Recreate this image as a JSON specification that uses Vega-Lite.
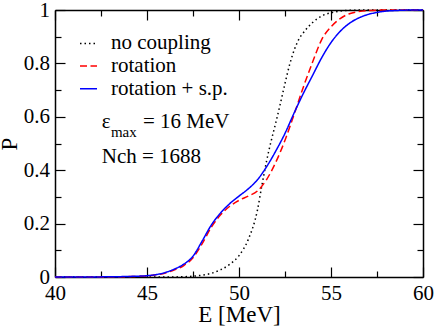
{
  "$schema": "https://vega.github.io/schema/vega-lite/v6.json",
  "width": 368,
  "height": 267,
  "autosize": {"type": "none"},
  "padding": {"left": 55, "top": 10, "right": 13, "bottom": 50},
  "config": {
    "view": {"stroke": null},
    "font": "Liberation Serif",
    "axis": {
      "grid": false,
      "domainColor": "black",
      "tickColor": "black",
      "labelColor": "black",
      "titleColor": "black",
      "labelFont": "Liberation Serif",
      "titleFont": "Liberation Serif",
      "labelFontSize": 21,
      "titleFontSize": 23,
      "titleFontWeight": "normal",
      "domainWidth": 1.5,
      "tickWidth": 1.2,
      "labelFlush": false,
      "labelOverlap": false,
      "labelBound": false
    },
    "text": {"font": "Liberation Serif", "color": "black"}
  },
  "datasets": {
    "curves": [
      {"series": "no coupling", "E": 40, "P": 0},
      {"series": "no coupling", "E": 42, "P": 0},
      {"series": "no coupling", "E": 44, "P": 0},
      {"series": "no coupling", "E": 46, "P": 0},
      {"series": "no coupling", "E": 46.5, "P": 0.0003},
      {"series": "no coupling", "E": 47, "P": 0.001},
      {"series": "no coupling", "E": 47.5, "P": 0.003},
      {"series": "no coupling", "E": 48, "P": 0.007},
      {"series": "no coupling", "E": 48.5, "P": 0.014},
      {"series": "no coupling", "E": 49, "P": 0.027},
      {"series": "no coupling", "E": 49.5, "P": 0.048},
      {"series": "no coupling", "E": 50, "P": 0.08},
      {"series": "no coupling", "E": 50.5, "P": 0.14},
      {"series": "no coupling", "E": 51, "P": 0.25},
      {"series": "no coupling", "E": 51.25, "P": 0.345},
      {"series": "no coupling", "E": 51.5, "P": 0.435},
      {"series": "no coupling", "E": 51.75, "P": 0.51},
      {"series": "no coupling", "E": 52, "P": 0.578},
      {"series": "no coupling", "E": 52.25, "P": 0.65},
      {"series": "no coupling", "E": 52.5, "P": 0.725},
      {"series": "no coupling", "E": 52.75, "P": 0.795},
      {"series": "no coupling", "E": 53, "P": 0.85},
      {"series": "no coupling", "E": 53.25, "P": 0.89},
      {"series": "no coupling", "E": 53.5, "P": 0.915},
      {"series": "no coupling", "E": 54, "P": 0.953},
      {"series": "no coupling", "E": 54.5, "P": 0.978},
      {"series": "no coupling", "E": 55, "P": 0.99},
      {"series": "no coupling", "E": 55.5, "P": 0.996},
      {"series": "no coupling", "E": 56, "P": 0.999},
      {"series": "no coupling", "E": 57, "P": 1},
      {"series": "no coupling", "E": 58, "P": 1},
      {"series": "no coupling", "E": 60, "P": 1},
      {"series": "rotation", "E": 40, "P": 0},
      {"series": "rotation", "E": 41, "P": 0},
      {"series": "rotation", "E": 42, "P": 0.0001},
      {"series": "rotation", "E": 43, "P": 0.0005},
      {"series": "rotation", "E": 44, "P": 0.0015},
      {"series": "rotation", "E": 45, "P": 0.004},
      {"series": "rotation", "E": 45.5, "P": 0.008},
      {"series": "rotation", "E": 46, "P": 0.015},
      {"series": "rotation", "E": 46.5, "P": 0.027},
      {"series": "rotation", "E": 47, "P": 0.043},
      {"series": "rotation", "E": 47.5, "P": 0.072},
      {"series": "rotation", "E": 48, "P": 0.125},
      {"series": "rotation", "E": 48.5, "P": 0.187},
      {"series": "rotation", "E": 49, "P": 0.233},
      {"series": "rotation", "E": 49.5, "P": 0.265},
      {"series": "rotation", "E": 50, "P": 0.287},
      {"series": "rotation", "E": 50.5, "P": 0.303},
      {"series": "rotation", "E": 51, "P": 0.322},
      {"series": "rotation", "E": 51.5, "P": 0.365},
      {"series": "rotation", "E": 52, "P": 0.43},
      {"series": "rotation", "E": 52.5, "P": 0.512},
      {"series": "rotation", "E": 53, "P": 0.61},
      {"series": "rotation", "E": 53.5, "P": 0.712},
      {"series": "rotation", "E": 54, "P": 0.805},
      {"series": "rotation", "E": 54.5, "P": 0.89},
      {"series": "rotation", "E": 55, "P": 0.937},
      {"series": "rotation", "E": 55.5, "P": 0.968},
      {"series": "rotation", "E": 56, "P": 0.986},
      {"series": "rotation", "E": 56.5, "P": 0.994},
      {"series": "rotation", "E": 57, "P": 0.998},
      {"series": "rotation", "E": 58, "P": 1},
      {"series": "rotation", "E": 59, "P": 1},
      {"series": "rotation", "E": 60, "P": 1},
      {"series": "rotation + s.p.", "E": 40, "P": 0},
      {"series": "rotation + s.p.", "E": 41, "P": 0},
      {"series": "rotation + s.p.", "E": 42, "P": 0.0002},
      {"series": "rotation + s.p.", "E": 43, "P": 0.0008},
      {"series": "rotation + s.p.", "E": 44, "P": 0.002},
      {"series": "rotation + s.p.", "E": 45, "P": 0.005},
      {"series": "rotation + s.p.", "E": 45.5, "P": 0.009},
      {"series": "rotation + s.p.", "E": 46, "P": 0.017},
      {"series": "rotation + s.p.", "E": 46.5, "P": 0.03},
      {"series": "rotation + s.p.", "E": 47, "P": 0.048},
      {"series": "rotation + s.p.", "E": 47.5, "P": 0.078},
      {"series": "rotation + s.p.", "E": 48, "P": 0.135},
      {"series": "rotation + s.p.", "E": 48.5, "P": 0.195},
      {"series": "rotation + s.p.", "E": 49, "P": 0.24},
      {"series": "rotation + s.p.", "E": 49.5, "P": 0.275},
      {"series": "rotation + s.p.", "E": 50, "P": 0.303},
      {"series": "rotation + s.p.", "E": 50.5, "P": 0.33},
      {"series": "rotation + s.p.", "E": 51, "P": 0.364},
      {"series": "rotation + s.p.", "E": 51.5, "P": 0.413},
      {"series": "rotation + s.p.", "E": 52, "P": 0.472},
      {"series": "rotation + s.p.", "E": 52.5, "P": 0.538},
      {"series": "rotation + s.p.", "E": 53, "P": 0.615},
      {"series": "rotation + s.p.", "E": 53.5, "P": 0.688},
      {"series": "rotation + s.p.", "E": 54, "P": 0.755},
      {"series": "rotation + s.p.", "E": 54.5, "P": 0.822},
      {"series": "rotation + s.p.", "E": 55, "P": 0.878},
      {"series": "rotation + s.p.", "E": 55.5, "P": 0.92},
      {"series": "rotation + s.p.", "E": 56, "P": 0.95},
      {"series": "rotation + s.p.", "E": 56.5, "P": 0.97},
      {"series": "rotation + s.p.", "E": 57, "P": 0.983},
      {"series": "rotation + s.p.", "E": 57.5, "P": 0.991},
      {"series": "rotation + s.p.", "E": 58, "P": 0.996},
      {"series": "rotation + s.p.", "E": 58.5, "P": 0.998},
      {"series": "rotation + s.p.", "E": 59, "P": 0.9995},
      {"series": "rotation + s.p.", "E": 60, "P": 1}
    ]
  },
  "layer": [
    {
      "data": {"name": "curves"},
      "mark": {"type": "line", "strokeWidth": 1.5, "interpolate": "monotone", "strokeCap": "butt"},
      "encoding": {
        "x": {
          "field": "E", "type": "quantitative",
          "scale": {"domain": [40, 60], "nice": false, "zero": false},
          "axis": {"orient": "bottom", "values": [40, 45, 50, 55, 60], "tickSize": -10, "labelPadding": 15.7, "title": "E [MeV]", "titlePadding": 0, "labelExpr": "format(datum.value, '~g')"}
        },
        "y": {
          "field": "P", "type": "quantitative",
          "scale": {"domain": [0, 1], "nice": false, "zero": false},
          "axis": {"orient": "left", "values": [0, 0.2, 0.4, 0.6, 0.8, 1], "tickSize": -10, "labelPadding": 15.5, "title": "P", "titlePadding": 1.5, "labelExpr": "format(datum.value, '~g')"}
        },
        "color": {
          "field": "series", "type": "nominal",
          "scale": {"domain": ["no coupling", "rotation", "rotation + s.p."], "range": ["#000000", "#ff0000", "#0000ff"]},
          "legend": {"title": null, "orient": "none", "legendX": 23, "legendY": 22.9, "symbolType": "stroke", "symbolSize": 289, "symbolStrokeWidth": 1.5, "labelFont": "Liberation Serif", "labelFontSize": 21, "labelColor": "black", "labelOffset": 12, "rowPadding": 0.7, "padding": 0, "labelLimit": 300}
        },
        "strokeDash": {
          "field": "series", "type": "nominal",
          "scale": {"domain": ["no coupling", "rotation", "rotation + s.p."], "range": [[1.5, 3], [7, 3.5], [1, 0]]},
          "legend": {"title": null, "orient": "none", "legendX": 23, "legendY": 22.9, "symbolType": "stroke", "symbolSize": 289, "symbolStrokeWidth": 1.5, "labelFont": "Liberation Serif", "labelFontSize": 21, "labelColor": "black", "labelOffset": 12, "rowPadding": 0.7, "padding": 0, "labelLimit": 300}
        }
      }
    },
    {
      "data": {"values": [{"label": "ε", "E": 42.54, "P": 0.557}]},
      "mark": {"type": "text", "fontSize": 21, "align": "left", "baseline": "alphabetic"},
      "encoding": {
        "x": {"field": "E", "type": "quantitative", "scale": {"domain": [40, 60], "nice": false, "zero": false},
          "axis": {"orient": "top", "values": [40, 45, 50, 55, 60], "tickSize": -10, "labels": false, "title": null}},
        "y": {"field": "P", "type": "quantitative", "scale": {"domain": [0, 1], "nice": false, "zero": false},
          "axis": {"orient": "right", "values": [0, 0.2, 0.4, 0.6, 0.8, 1], "tickSize": -10, "labels": false, "title": null}},
        "text": {"field": "label"}
      }
    },
    {
      "data": {"values": [{"label": "max", "E": 43.04, "P": 0.525}]},
      "mark": {"type": "text", "fontSize": 15, "align": "left", "baseline": "alphabetic"},
      "encoding": {
        "x": {"field": "E", "type": "quantitative", "scale": {"domain": [40, 60], "nice": false, "zero": false},
          "axis": {"orient": "bottom", "values": [42.5, 47.5, 52.5, 57.5], "tickSize": -6, "labels": false, "domain": false, "title": null}},
        "y": {"field": "P", "type": "quantitative", "scale": {"domain": [0, 1], "nice": false, "zero": false},
          "axis": {"orient": "left", "values": [0.1, 0.3, 0.5, 0.7, 0.9], "tickSize": -6, "labels": false, "domain": false, "title": null}},
        "text": {"field": "label"}
      }
    },
    {
      "data": {"values": [{"label": "= 16 MeV", "E": 44.78, "P": 0.557}]},
      "mark": {"type": "text", "fontSize": 21, "align": "left", "baseline": "alphabetic"},
      "encoding": {
        "x": {"field": "E", "type": "quantitative", "scale": {"domain": [40, 60], "nice": false, "zero": false},
          "axis": {"orient": "top", "values": [42.5, 47.5, 52.5, 57.5], "tickSize": -6, "labels": false, "domain": false, "title": null}},
        "y": {"field": "P", "type": "quantitative", "scale": {"domain": [0, 1], "nice": false, "zero": false},
          "axis": {"orient": "right", "values": [0.1, 0.3, 0.5, 0.7, 0.9], "tickSize": -6, "labels": false, "domain": false, "title": null}},
        "text": {"field": "label"}
      }
    },
    {
      "data": {"values": [{"label": "Nch = 1688", "E": 42.54, "P": 0.426}]},
      "mark": {"type": "text", "fontSize": 21, "align": "left", "baseline": "alphabetic"},
      "encoding": {
        "x": {"field": "E", "type": "quantitative", "scale": {"domain": [40, 60], "nice": false, "zero": false}, "axis": null},
        "y": {"field": "P", "type": "quantitative", "scale": {"domain": [0, 1], "nice": false, "zero": false}, "axis": null},
        "text": {"field": "label"}
      }
    }
  ]
}
